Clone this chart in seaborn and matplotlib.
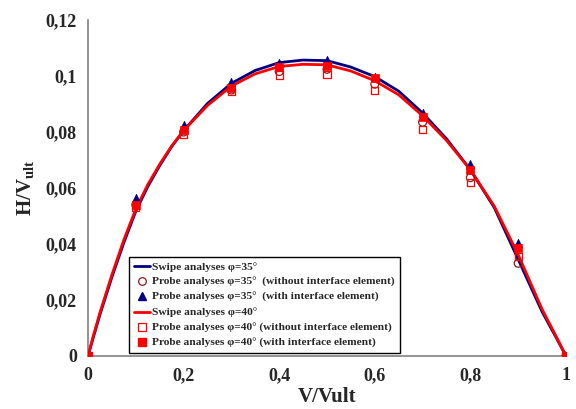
import matplotlib
matplotlib.use("Agg")
import matplotlib.pyplot as plt
from matplotlib.ticker import FuncFormatter, FixedLocator
from matplotlib.lines import Line2D
import seaborn as sns
import pandas as pd

# Swipe analysis envelopes (V/Vult -> H/Vult)
swipe_x = [0, 0.01, 0.025, 0.05, 0.075, 0.1, 0.125, 0.15, 0.175, 0.2, 0.25, 0.3,
           0.35, 0.4, 0.45, 0.5, 0.55, 0.6, 0.65, 0.7, 0.75, 0.8, 0.85, 0.9,
           0.95, 0.98, 1]
swipe_35 = [0, 0.006, 0.0148, 0.0282, 0.0405, 0.0517, 0.0605, 0.068, 0.0748,
            0.0805, 0.0902, 0.0974, 0.1020, 0.1048, 0.1057, 0.1055, 0.1032,
            0.0998, 0.0946, 0.0868, 0.0776, 0.0665, 0.0530, 0.0345, 0.0158,
            0.0064, 0]
swipe_40 = [0, 0.0065, 0.0155, 0.029, 0.0415, 0.0525, 0.0612, 0.0685, 0.0750,
            0.0805, 0.0895, 0.0964, 0.1008, 0.1034, 0.1042, 0.1040, 0.1018,
            0.0983, 0.0933, 0.0858, 0.0770, 0.0665, 0.0535, 0.0362, 0.0167,
            0.0068, 0]

# Probe analyses
probe_x = [0, 0.1, 0.2, 0.3, 0.4, 0.5, 0.6, 0.7, 0.8, 0.9, 1]
probe_35_without = [0, 0.0540, 0.0800, 0.0950, 0.1016, 0.1024, 0.0971, 0.0835, 0.0637, 0.0331, 0]
probe_35_with = [0, 0.0563, 0.0825, 0.0980, 0.1048, 0.1057, 0.0995, 0.0869, 0.0686, 0.0402, 0]
probe_40_without = [0, 0.0530, 0.0793, 0.0944, 0.1004, 0.1006, 0.0948, 0.0810, 0.0619, 0.0356, 0]
probe_40_with = [0, 0.0539, 0.0807, 0.0956, 0.1033, 0.1037, 0.0992, 0.0855, 0.0664, 0.0386, 0]

x_ticks = [0, 0.2, 0.4, 0.6, 0.8, 1]
y_ticks = [0, 0.02, 0.04, 0.06, 0.08, 0.1, 0.12]

labels = [
    "Swipe analyses φ=35°",
    "Probe analyses φ=35°  (without interface element)",
    "Probe analyses φ=35°  (with interface element)",
    "Swipe analyses φ=40°",
    "Probe analyses φ=40° (without interface element)",
    "Probe analyses φ=40° (with interface element)",
]

NAVY = "#000080"
RED = "#FF0000"
DARKRED = "#8B1A1A"

sns.set_style("white")
plt.rcParams["font.family"] = ["Liberation Serif", "DejaVu Serif"]
plt.rcParams["font.weight"] = "bold"
plt.rcParams["mathtext.fontset"] = "custom"
plt.rcParams["mathtext.rm"] = "Liberation Serif:bold"
plt.rcParams["mathtext.bf"] = "Liberation Serif:bold"

fig = plt.figure(figsize=(5.76, 4.09), dpi=100)
ax = fig.add_axes([0.1528, 0.1296, 0.8298, 0.8214])

sw35 = pd.DataFrame({"x": swipe_x, "y": swipe_35})
sw40 = pd.DataFrame({"x": swipe_x, "y": swipe_40})
sns.lineplot(data=sw35, x="x", y="y", ax=ax, color=NAVY, linewidth=2.0,
             sort=False, estimator=None, zorder=2)
sns.lineplot(data=sw40, x="x", y="y", ax=ax, color=RED, linewidth=2.0,
             sort=False, estimator=None, zorder=3)

sns.scatterplot(x=probe_x, y=probe_35_without, ax=ax, marker="o", s=32,
                facecolor="none", edgecolor=DARKRED, linewidth=0.9, zorder=4)
sns.scatterplot(x=probe_x, y=probe_40_without, ax=ax, marker="s", s=28,
                facecolor="none", edgecolor=RED, linewidth=0.9, zorder=4)
sns.scatterplot(x=probe_x, y=probe_35_with, ax=ax, marker="^", s=36,
                color=NAVY, edgecolor=NAVY, linewidth=0.5, zorder=5)
sns.scatterplot(x=probe_x, y=probe_40_with, ax=ax, marker="s", s=36,
                color=RED, edgecolor=RED, linewidth=0.5, zorder=6)

ax.set_xlim(0, 1)
ax.set_ylim(0, 0.12)
ax.xaxis.set_major_locator(FixedLocator(x_ticks))
ax.yaxis.set_major_locator(FixedLocator(y_ticks))
comma = FuncFormatter(lambda v, p: f"{v:g}".replace(".", ","))
ax.xaxis.set_major_formatter(comma)
ax.yaxis.set_major_formatter(comma)
ax.tick_params(axis="both", direction="out", length=4, width=1, color="#808080",
               labelsize=13, pad=4)
for t in ax.get_xticklabels() + ax.get_yticklabels():
    t.set_fontweight("bold")

for side in ("top", "right"):
    ax.spines[side].set_visible(False)
for side in ("left", "bottom"):
    ax.spines[side].set_color("#808080")
    ax.spines[side].set_linewidth(1.2)

ax.set_xlabel("V/Vult", fontsize=15, fontweight="bold", labelpad=2)
ax.set_ylabel(r"H/V$_{\mathrm{ult}}$", fontsize=15, fontweight="bold", labelpad=6)

handles = [
    Line2D([], [], color=NAVY, linewidth=2.0),
    Line2D([], [], linestyle="none", marker="o", markersize=5.5,
           markerfacecolor="none", markeredgecolor=DARKRED, markeredgewidth=0.9),
    Line2D([], [], linestyle="none", marker="^", markersize=6,
           color=NAVY),
    Line2D([], [], color=RED, linewidth=2.0),
    Line2D([], [], linestyle="none", marker="s", markersize=5.5,
           markerfacecolor="none", markeredgecolor=RED, markeredgewidth=0.9),
    Line2D([], [], linestyle="none", marker="s", markersize=6,
           color=RED),
]
leg = ax.legend(handles, labels, loc="lower left", bbox_to_anchor=(0.086, 0.008),
                frameon=True, fancybox=False, framealpha=1, edgecolor="black",
                prop={"family": ["Liberation Serif", "DejaVu Serif"],
                      "weight": "bold", "size": 8.2},
                handlelength=1.4, handletextpad=0.2, labelspacing=0.45,
                borderpad=0.45, borderaxespad=0)
leg.get_frame().set_linewidth(1.0)

fig.savefig("out.png", dpi=100)
